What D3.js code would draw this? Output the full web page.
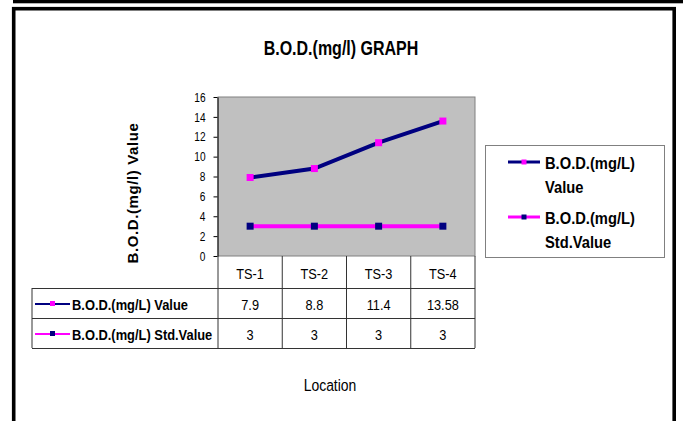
<!DOCTYPE html>
<html>
<head>
<meta charset="utf-8">
<script src="https://cdn.jsdelivr.net/npm/d3@7"></script>
<style>
  body { margin: 0; background: #fff; }
  svg text { font-family: Arial, "Liberation Sans", sans-serif; fill: #000; }
</style>
</head>
<body>
<svg id="chart" width="688" height="421"></svg>
<script>
// data
var locations = ["TS-1", "TS-2", "TS-3", "TS-4"];
var bodValue = [7.9, 8.8, 11.4, 13.58];
var bodStd = [3, 3, 3, 3];
var bodValueText = ["7.9", "8.8", "11.4", "13.58"];
var yTicks = [0, 2, 4, 6, 8, 10, 12, 14, 16];
var seriesNames = ["B.O.D.(mg/L) Value", "B.O.D.(mg/L) Std.Value"];

var navy = "#000080", magenta = "#ff00ff";

var svg = d3.select("#chart");

// text squeezed sideways like the original picture
function label(g, x, y, str, size, weight, anchor, sx) {
  return g.append("text")
    .attr("transform", "translate(" + x + "," + y + ") scale(" + sx + ",1)")
    .attr("font-size", size)
    .attr("font-weight", weight)
    .attr("text-anchor", anchor)
    .text(str);
}

// outer frame
svg.append("rect").attr("x", 13).attr("y", 0).attr("width", 670).attr("height", 3.3).attr("fill", "#000");
svg.append("rect")
  .attr("x", 13.7).attr("y", 8.7).attr("width", 660.5).attr("height", 430)
  .attr("fill", "none").attr("stroke", "#000").attr("stroke-width", 3.6);

label(svg, 341, 55, "B.O.D.(mg/l) GRAPH", 20, "bold", "middle", 0.8);

var x = d3.scaleBand().domain(locations).range([218, 475]);
var y = d3.scaleLinear().domain([0, 16]).range([256, 97]);

// plot area
svg.append("rect")
  .attr("x", x.range()[0]).attr("y", y(16))
  .attr("width", x.range()[1] - x.range()[0]).attr("height", y(0) - y(16))
  .attr("fill", "#c0c0c0").attr("stroke", "#808080").attr("stroke-width", 1);

var yAxis = svg.append("g")
  .attr("transform", "translate(217.5,0)")
  .call(d3.axisLeft(y).tickValues(yTicks).tickSize(4).tickSizeOuter(0).tickPadding(8));
yAxis.select(".domain").attr("stroke", "#000");
yAxis.selectAll(".tick line").attr("stroke", "#000");
yAxis.selectAll(".tick text")
  .attr("font-size", 13).attr("fill", "#333")
  .attr("font-family", "Arial, 'Liberation Sans', sans-serif")
  .attr("x", -12 / 0.78).attr("transform", "scale(0.78,1)");

svg.append("text")
  .attr("transform", "translate(138,193) rotate(-90)")
  .attr("text-anchor", "middle")
  .attr("font-size", 15).attr("font-weight", "bold")
  .attr("letter-spacing", 0.6)
  .text("B.O.D.(mg/l) Value");

// series
var series = [
  { name: seriesNames[0], values: bodValue, line: navy, mark: magenta },
  { name: seriesNames[1], values: bodStd, line: magenta, mark: navy }
];

var line = d3.line()
  .x(function(d, i) { return x(locations[i]) + x.bandwidth() / 2; })
  .y(function(d) { return y(d); });

series.slice().reverse().forEach(function(s) {
  svg.append("path").datum(s.values)
    .attr("d", line).attr("fill", "none")
    .attr("stroke", s.line).attr("stroke-width", 4);
  svg.selectAll(null).data(s.values).enter().append("rect")
    .attr("x", function(d, i) { return x(locations[i]) + x.bandwidth() / 2 - 3.5; })
    .attr("y", function(d) { return y(d) - 3.5; })
    .attr("width", 7).attr("height", 7)
    .attr("fill", s.mark);
});

// data table under the plot
var tbl = svg.append("g");
var rowTop = [256, 288, 318, 348];
var tableLeft = 32;
var grid = "#333";

tbl.append("line").attr("x1", x.range()[0]).attr("x2", x.range()[0]).attr("y1", rowTop[0]).attr("y2", rowTop[3]).attr("stroke", grid);
locations.forEach(function(c) {
  var xr = x(c) + x.bandwidth();
  tbl.append("line").attr("x1", xr).attr("x2", xr).attr("y1", rowTop[0]).attr("y2", rowTop[3]).attr("stroke", grid);
});
tbl.append("line").attr("x1", tableLeft).attr("x2", tableLeft).attr("y1", rowTop[1]).attr("y2", rowTop[3]).attr("stroke", grid);
[1, 2, 3].forEach(function(r) {
  tbl.append("line").attr("x1", tableLeft).attr("x2", x.range()[1]).attr("y1", rowTop[r] + 0.5).attr("y2", rowTop[r] + 0.5).attr("stroke", grid);
});

locations.forEach(function(c, i) {
  var cx = x(c) + x.bandwidth() / 2;
  label(tbl, cx, 279, c, 15, "normal", "middle", 0.85);
  label(tbl, cx, 310, bodValueText[i], 15, "normal", "middle", 0.85);
  label(tbl, cx, 340, String(bodStd[i]), 15, "normal", "middle", 0.85);
});

series.forEach(function(s, r) {
  var cy = rowTop[r + 1] + 16;
  tbl.append("line").attr("x1", 35).attr("x2", 70).attr("y1", cy).attr("y2", cy)
    .attr("stroke", s.line).attr("stroke-width", 2);
  tbl.append("rect").attr("x", 50).attr("y", cy - 3).attr("width", 5).attr("height", 5).attr("fill", s.mark);
  label(tbl, 72, cy + 6, s.name, 15, "bold", "start", 0.86);
});

// legend box
var leg = svg.append("g");
leg.append("rect").attr("x", 485.5).attr("y", 145.5).attr("width", 179).attr("height", 112)
  .attr("fill", "#fff").attr("stroke", "#808080");
var legLines = [["B.O.D.(mg/L)", "Value"], ["B.O.D.(mg/L)", "Std.Value"]];
series.forEach(function(s, r) {
  var ly = 162 + r * 55;
  leg.append("line").attr("x1", 508).attr("x2", 540).attr("y1", ly).attr("y2", ly)
    .attr("stroke", s.line).attr("stroke-width", 3);
  leg.append("rect").attr("x", 521.5).attr("y", ly - 2.5).attr("width", 5).attr("height", 5).attr("fill", s.mark);
  label(leg, 545, ly + 7, legLines[r][0], 16, "bold", "start", 0.92);
  label(leg, 545, ly + 31, legLines[r][1], 16, "bold", "start", 0.92);
});

label(svg, 330, 391, "Location", 17, "normal", "middle", 0.82);
</script>
</body>
</html>
